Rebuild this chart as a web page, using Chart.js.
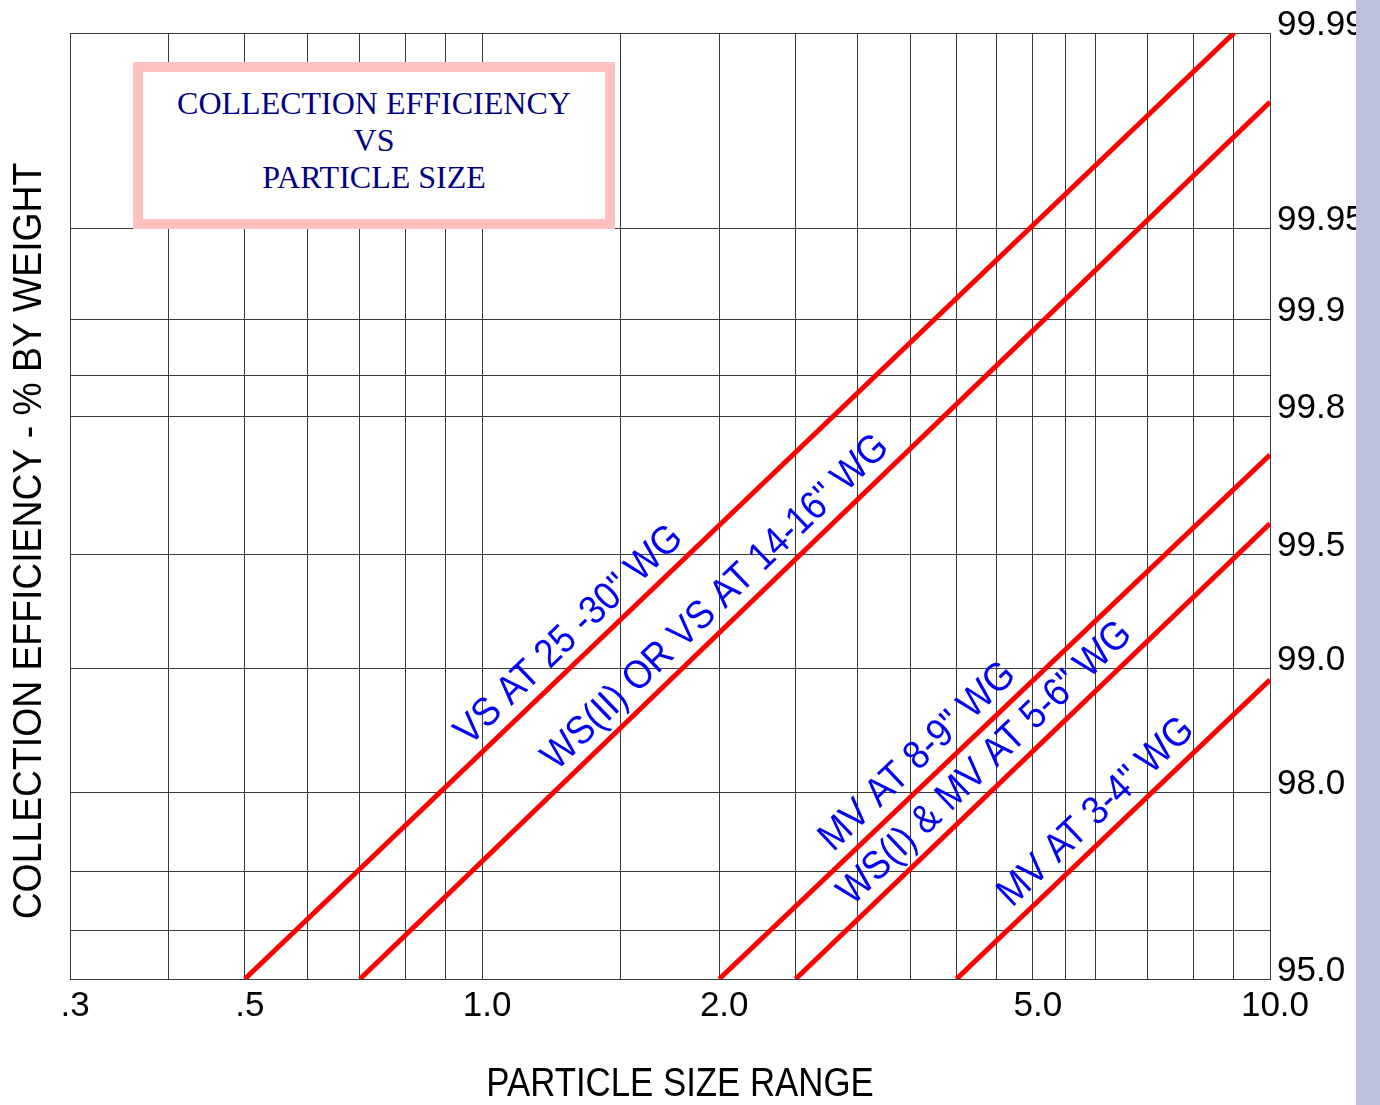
<!DOCTYPE html>
<html lang="en">
<head>
<meta charset="UTF-8">
<title>Collection Efficiency vs Particle Size</title>
<script src="https://cdn.jsdelivr.net/npm/chart.js@4.4.1/dist/chart.umd.min.js"></script>
<style>
  body { margin: 0; background: #fff; overflow: hidden; }
  #wrap { position: relative; width: 1380px; height: 1105px; }
  #titleBox {
    position: absolute; left: 133px; top: 62px; width: 482px; height: 167px;
    box-sizing: border-box; border: 10px solid #ffc0c0; background: #fff;
    text-align: center; color: #000080; padding-top: 13px;
    font: 32px/37px 'Liberation Serif', 'Times New Roman', serif;
  }
  #sideBar { position: absolute; left: 1356px; top: 0; width: 24px; height: 1105px; background: #bec0df; }
</style>
</head>
<body>
<div id="wrap">
  <canvas id="chart" width="1380" height="1105"></canvas>
  <div id="titleBox">COLLECTION EFFICIENCY<br>VS<br>PARTICLE SIZE</div>
  <div id="sideBar"></div>
</div>

<script>
// particle size axis (log)
const xGrid = [0.3, 0.4, 0.5, 0.6, 0.7, 0.8, 0.9, 1.0, 1.5, 2.0, 2.5, 3.0, 3.5, 4.0, 4.5, 5.0, 5.5, 6, 7, 8, 9, 10];
const xLabelValues = [0.3, 0.5, 1, 2, 5, 10];
const xLabelText = ['.3', '.5', '1.0', '2.0', '5.0', '10.0'];

// efficiency axis (probability scale)
const yGrid = [95, 96, 97, 98, 99, 99.5, 99.8, 99.85, 99.9, 99.95, 99.99];
const yLabelValues = [95, 98, 99, 99.5, 99.8, 99.9, 99.95, 99.99];
const yLabelText = ['95.0', '98.0', '99.0', '99.5', '99.8', '99.9', '99.95', '99.99'];

// one straight line per collector
const seriesNames = ['VS AT 25 -30" WG', 'WS(II) OR VS AT 14-16" WG', 'MV AT 8-9" WG', 'WS(I) & MV AT 5-6" WG', 'MV AT 3-4" WG'];
const sizeStart = [0.5, 0.7, 2.0, 2.5, 4.0];
const sizeEnd = [9, 10, 10, 10, 10];
const effStart = [95, 95, 95, 95, 95];
const effEnd = [99.99, 99.982, 99.74, 99.59, 98.93];

// where along each line its name sits (particle size)
const labelAt = [1.355, 2.08, 3.75, 4.57, 6.32];

// inverse normal cdf (Acklam)
function probit(pct) {
  const p = pct / 100;
  const a = [-3.969683028665376e+01, 2.209460984245205e+02, -2.759285104469687e+02, 1.383577518672690e+02, -3.066479806614716e+01, 2.506628277459239e+00];
  const b = [-5.447609879822406e+01, 1.615858368580409e+02, -1.556989798598866e+02, 6.680131188771972e+01, -1.328068155288572e+01];
  const c = [-7.784894002430293e-03, -3.223964580411365e-01, -2.400758277161838e+00, -2.549732539343734e+00, 4.374664141464968e+00, 2.938163982698783e+00];
  const d = [7.784695709041462e-03, 3.224671290700398e-01, 2.445134137142996e+00, 3.754408661907416e+00];
  const plow = 0.02425, phigh = 1 - plow;
  let q, r;
  if (p < plow) {
    q = Math.sqrt(-2 * Math.log(p));
    return (((((c[0]*q+c[1])*q+c[2])*q+c[3])*q+c[4])*q+c[5]) / ((((d[0]*q+d[1])*q+d[2])*q+d[3])*q+1);
  }
  if (p > phigh) {
    q = Math.sqrt(-2 * Math.log(1 - p));
    return -(((((c[0]*q+c[1])*q+c[2])*q+c[3])*q+c[4])*q+c[5]) / ((((d[0]*q+d[1])*q+d[2])*q+d[3])*q+1);
  }
  q = p - 0.5; r = q * q;
  return (((((a[0]*r+a[1])*r+a[2])*r+a[3])*r+a[4])*r+a[5])*q / (((((b[0]*r+b[1])*r+b[2])*r+b[3])*r+b[4])*r+1);
}

const FONT = '"Liberation Sans", Arial, sans-serif';
const gridColor = '#3a3a3a';

const datasets = seriesNames.map((name, i) => ({
  label: name,
  data: [
    { x: sizeStart[i], y: probit(effStart[i]) },
    { x: sizeEnd[i], y: probit(effEnd[i]) }
  ],
  borderColor: '#ff0000',
  borderWidth: 5,
  pointRadius: 0,
  tension: 0,
  fill: false
}));

const textPlugin = {
  id: 'chartText',
  afterDatasetsDraw(chart) {
    const ctx = chart.ctx, xs = chart.scales.x;
    ctx.save();
    ctx.fillStyle = '#0000f5';
    ctx.font = '40px ' + FONT;
    ctx.textAlign = 'center';
    ctx.textBaseline = 'middle';
    seriesNames.forEach((name, i) => {
      const pts = chart.getDatasetMeta(i).data;
      const a = pts[0], b = pts[pts.length - 1];
      const ang = Math.atan2(b.y - a.y, b.x - a.x);
      const px = xs.getPixelForValue(labelAt[i]);
      const py = a.y + (px - a.x) / (b.x - a.x) * (b.y - a.y);
      const off = 24;
      ctx.save();
      ctx.translate(px + Math.sin(ang) * off, py - Math.cos(ang) * off);
      ctx.rotate(ang);
      ctx.scale(0.9, 1);
      ctx.fillText(name, 0, 0);
      ctx.restore();
    });
    ctx.restore();
  },
  afterDraw(chart) {
    const ctx = chart.ctx, area = chart.chartArea;
    ctx.save();
    ctx.fillStyle = '#000';
    ctx.textAlign = 'center';
    ctx.textBaseline = 'middle';
    // x title
    ctx.font = '40px ' + FONT;
    ctx.save();
    ctx.translate((area.left + area.right) / 2 + 10, 1085);
    ctx.scale(0.87, 1);
    ctx.fillText('PARTICLE SIZE RANGE', 0, 0);
    ctx.restore();
    // y title
    ctx.font = '41px ' + FONT;
    ctx.save();
    ctx.translate(30, 541);
    ctx.rotate(-Math.PI / 2);
    ctx.scale(0.91, 1);
    ctx.fillText('COLLECTION EFFICIENCY - % BY WEIGHT', 0, 0);
    ctx.restore();
    ctx.restore();
  }
};

new Chart(document.getElementById('chart'), {
  type: 'line',
  data: { datasets },
  plugins: [textPlugin],
  options: {
    responsive: false,
    animation: false,
    layout: { padding: { left: 70, top: 33, right: 0, bottom: 0 } },
    plugins: { legend: { display: false }, tooltip: { enabled: false } },
    scales: {
      x: {
        type: 'logarithmic',
        min: 0.3,
        max: 10,
        afterFit(scale) { scale.height = 126; },
        afterBuildTicks(scale) { scale.ticks = xGrid.map(v => ({ value: v })); },
        grid: { color: gridColor, lineWidth: 1, drawTicks: false },
        border: { color: gridColor, width: 1 },
        ticks: {
          autoSkip: false,
          maxRotation: 0,
          padding: 6,
          labelOffset: 5,
          color: '#000',
          font: { family: FONT, size: 35 },
          callback(value) {
            const k = xLabelValues.findIndex(v => Math.abs(v - value) < 1e-6);
            return k >= 0 ? xLabelText[k] : '';
          }
        }
      },
      y: {
        type: 'linear',
        position: 'right',
        min: probit(95),
        max: probit(99.99),
        afterFit(scale) { scale.width = 110; },
        afterBuildTicks(scale) { scale.ticks = yGrid.map(v => ({ value: probit(v) })); },
        grid: { color: gridColor, lineWidth: 1, drawTicks: false },
        border: { color: gridColor, width: 1 },
        ticks: {
          autoSkip: false,
          padding: 7,
          labelOffset: -8,
          color: '#000',
          font: { family: FONT, size: 35 },
          callback(value, index) {
            const k = yLabelValues.indexOf(yGrid[index]);
            return k >= 0 ? yLabelText[k] : '';
          }
        }
      }
    }
  }
});
</script>
</body>
</html>
